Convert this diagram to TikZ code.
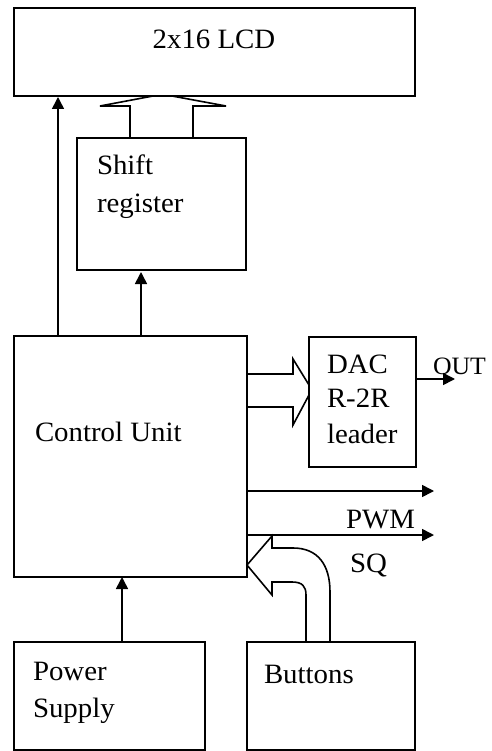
\documentclass[tikz,border=0pt]{standalone}
\usepackage{fontspec}
\setmainfont[FakeStretch=1.03]{Liberation Serif}
\usetikzlibrary{arrows.meta,calc}
\begin{document}
\begin{tikzpicture}[x=1pt,y=-1pt,
  line width=1.6pt,
  blk/.style={draw, rectangle, inner sep=0pt, outer sep=0pt, anchor=north west},
  lbl/.style={inner sep=0pt, outer sep=0pt, font=\fontsize{28pt}{34pt}\selectfont},
  arr/.style={-{Triangle[length=12pt,width=12pt]}},
  line join=miter]
\useasboundingbox (0,0) rectangle (491,751);
% boxes
\node[blk, minimum width=401pt, minimum height=88pt] (lcd) at (14,8) {};
\node[blk, minimum width=169pt, minimum height=132pt] (shift) at (77,138) {};
\node[blk, minimum width=233pt, minimum height=241pt] (ctrl) at (14,336) {};
\node[blk, minimum width=107pt, minimum height=130pt] (dac) at (309,337) {};
\node[blk, minimum width=191pt, minimum height=108pt] (psu) at (14,642) {};
\node[blk, minimum width=168pt, minimum height=108pt] (btn) at (247,642) {};
% labels
\node[lbl, anchor=base] (tlcd) at (214,49) {2x16 LCD};
\node[lbl, anchor=base west] (tshift) at (97,175) {Shift};
\node[lbl, anchor=base west] (treg) at (97,212) {register};
\node[lbl, anchor=base west] (tctrl) at (35,441) {Control Unit};
\node[lbl, anchor=base west] (tdac) at (327,373) {DAC};
\node[lbl, anchor=base west] (tr2r) at (327,407) {R-2R};
\node[lbl, anchor=base west] (tlead) at (327,443) {leader};
\node[lbl, anchor=base west, font=\fontsize{25pt}{30pt}\selectfont] (tout) at (433,374) {OUT};
\node[lbl, anchor=base east] (tpwm) at (415,528) {PWM};
\node[lbl, anchor=base west] (tsq) at (350,572) {SQ};
\node[lbl, anchor=base west] (tpow) at (33,680) {Power};
\node[lbl, anchor=base west] (tsup) at (33,717) {Supply};
\node[lbl, anchor=base west] (tbtn) at (264,683) {Buttons};
% free ends
\coordinate (outend) at (455,379);
\coordinate (o1end) at (434,491);
\coordinate (o2end) at (434,535);
% simple arrows
\draw[arr, shorten >=1pt] ([xshift=44pt]ctrl.north west) -- ([xshift=44pt]lcd.south west);
\draw[arr, shorten >=2pt] ([xshift=127pt]ctrl.north west) -- ([xshift=64pt]shift.south west);
\draw[arr] ([xshift=108pt]psu.north west) -- ([xshift=108pt]ctrl.south west);
\draw[arr] ([yshift=-42pt]dac.north east) -- (outend);
\draw[arr] ([yshift=-155pt]ctrl.north east) -- (o1end);
\draw[arr] ([yshift=-199pt]ctrl.north east) -- (o2end);
% block arrow shift register -> LCD
\draw ([xshift=53pt]shift.north west) -- ++(0,-32) -- ++(-30,0) -- ++(53,-10) -- ++(19,0)
      -- ++(54,10) -- ++(-33,0) -- ([xshift=116pt]shift.north west);
% block arrow control -> DAC
\draw ([yshift=-38pt]ctrl.north east) -- ++(46,0) -- ++(0,-15) -- ++(16,26) -- ++(0,10)
      -- ++(-16,30) -- ++(0,-18) -- ([yshift=-71pt]ctrl.north east);
% curved block arrow buttons -> control
\draw ([xshift=59pt]btn.north west) -- (306,595) .. controls (306,586) and (302,582) .. (292,582)
      -- (272,582) -- (272,595) -- (247,565) -- (272,536) -- (272,548) -- (293,548)
      .. controls (318,548) and (330,565) .. (330,592) -- ([xshift=83pt]btn.north west);
\end{tikzpicture}
\end{document}
